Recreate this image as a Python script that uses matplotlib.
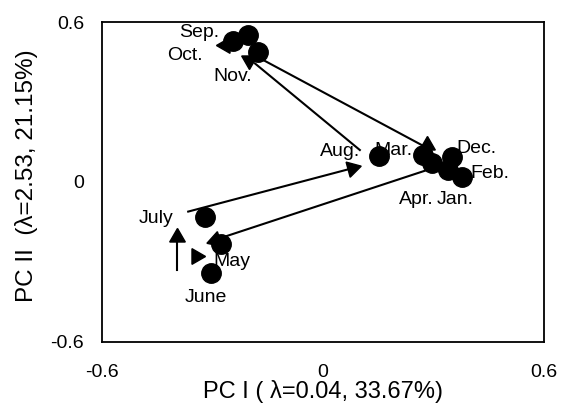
import matplotlib
matplotlib.use("Agg")
import matplotlib.pyplot as plt

plt.rcParams["font.family"] = ["Liberation Sans", "DejaVu Sans"]

# Monthly scores on the first two principal components
months = ["Jan.", "Feb.", "Mar.", "Apr.", "May", "June",
          "July", "Aug.", "Sep.", "Oct.", "Nov.", "Dec."]
pc1 = [0.340, 0.377, 0.272, 0.296, -0.278, -0.305,
       -0.320, 0.153, -0.203, -0.244, -0.176, 0.349]
pc2 = [0.045, 0.020, 0.101, 0.071, -0.232, -0.342,
       -0.130, 0.097, 0.551, 0.529, 0.489, 0.095]

# Label anchors for each month
label_x = [0.358, 0.453, 0.191, 0.254, -0.248, -0.318,
           -0.452, 0.046, -0.337, -0.375, -0.244, 0.417]
label_y = [-0.067, 0.033, 0.120, -0.067, -0.299, -0.432,
           -0.136, 0.114, 0.562, 0.476, 0.394, 0.126]

# Arrow shafts (start -> end)
shaft_x0 = [-0.171, -0.185, -0.366, 0.309, -0.396]
shaft_y0 = [0.464, 0.445, -0.111, 0.057, -0.330]
shaft_x1 = [0.277, 0.100, 0.078, -0.293, -0.396]
shaft_y1 = [0.132, 0.120, 0.051, -0.217, -0.205]

# Arrow heads: position and direction (degrees, 0 = pointing up)
head_x = [0.282, -0.201, -0.266, 0.078, -0.293, -0.396, -0.345]
head_y = [0.139, 0.457, 0.514, 0.051, -0.217, -0.205, -0.277]
head_rot = [0, 180, 90, -75, 108, 0, -90]

xticks = [-0.6, 0, 0.6]
yticks = [-0.6, 0, 0.6]

fig = plt.figure(figsize=(5.62, 4.16), dpi=100)
ax = fig.add_axes([0.1815, 0.178, 0.7865, 0.769])

for x0, y0, x1, y1 in zip(shaft_x0, shaft_y0, shaft_x1, shaft_y1):
    ax.plot([x0, x1], [y0, y1], color="black", lw=1.5, zorder=2)

for hx, hy, rot in zip(head_x, head_y, head_rot):
    ax.plot(hx, hy, marker=(3, 0, rot), markersize=13,
            color="black", zorder=3)

ax.plot(pc1, pc2, "o", color="black", markersize=14, zorder=4)

for name, lx, ly in zip(months, label_x, label_y):
    ax.text(lx, ly, name, ha="center", va="center", fontsize=14, zorder=5)

ax.set_xlim(-0.6, 0.6)
ax.set_ylim(-0.6, 0.6)
ax.set_xticks(xticks)
ax.set_yticks(yticks)
ax.set_xticklabels(["-0.6", "0", "0.6"])
ax.set_yticklabels(["-0.6", "0", "0.6"])
ax.tick_params(length=0, labelsize=14)
ax.tick_params(axis="x", pad=16)
ax.tick_params(axis="y", pad=13)
for sp in ax.spines.values():
    sp.set_linewidth(1.3)

ax.set_xlabel("PC I ( \u03bb=0.04, 33.67%)", fontsize=17)
ax.set_ylabel("PC II  (\u03bb=2.53, 21.15%)", fontsize=17.5)
ax.xaxis.set_label_coords(0.5, -0.12)
ax.yaxis.set_label_coords(-0.145, 0.52)

fig.savefig("out.png", dpi=100)
